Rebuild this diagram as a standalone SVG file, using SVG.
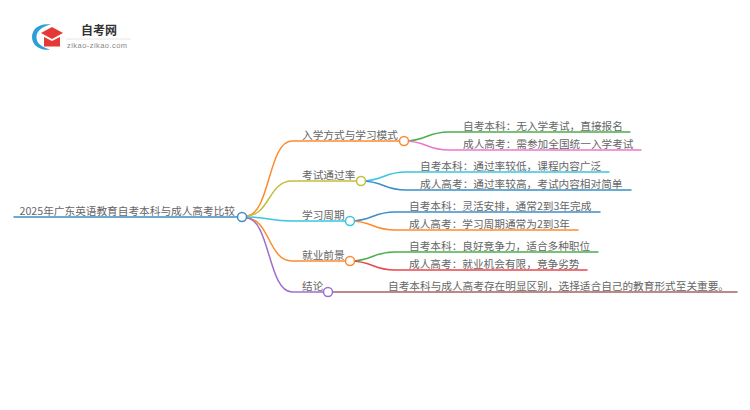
<svg xmlns="http://www.w3.org/2000/svg" width="750" height="410" viewBox="0 0 750 410">
<style>
text{font-family:"Noto Sans CJK SC","Noto Sans",sans-serif;font-size:10.67px;fill:#666;font-weight:400}
.c path{fill:none;stroke-width:1.5;stroke-linecap:round}
circle{fill:#fff;stroke-width:1.5}
</style>
<rect width="750" height="410" fill="#fff"/>
<g id="logo">
<path d="M51 24.5C38 22.5 32 30 32 37C32 44 38 51 50 49.5C41 47 36.500 43 36.500 37C36.500 31 42 26.500 51 24.500Z" fill="#2d9fd8"/>
<path d="M41 33L52 27L63 33L52 39Z" fill="#e53935"/>
<path d="M44 37L52 41L60 37V46.500H44Z" fill="#e53935"/>
<text x="81" y="35" style="font-size:12px;font-weight:700;fill:#333">自考网</text>
<path d="M66 39H131" stroke="#e6e6e6" fill="none"/>
<text x="67" y="48" style="font-size:7.5px;fill:#888;font-family:'Liberation Sans',sans-serif;letter-spacing:.45px">zikao-zikao.com</text>
</g>
<g class="c" id="connectors">
<path d="M14 217H242" stroke="#3d8ec9"/>
<path d="M246 216C270 216 268 141 292 141H404" stroke="#fd8a2f"/>
<path d="M246 216C270 216 268 181 292 181H361" stroke="#c3bf38"/>
<path d="M246 217C270 217 268 221 292 221H350" stroke="#37c7de"/>
<path d="M246 218C270 218 268 261 292 261H350" stroke="#fd8a2f"/>
<path d="M246 218C270 218 268 292 292 292H328" stroke="#a06fce"/>
<path d="M404 141C427 141 426 132 449 132H630" stroke="#4caf4c"/>
<path d="M404 141C427 141 426 150 449 150H641" stroke="#ec77cb"/>
<path d="M361 181C384 181 383 172 406 172H609" stroke="#37c7de"/>
<path d="M361 181C384 181 383 190 406 190H631" stroke="#3d8ec9"/>
<path d="M350 221C373 221 372 212 395 212H600" stroke="#3d8ec9"/>
<path d="M350 221C373 221 372 230 395 230H578" stroke="#fd8a2f"/>
<path d="M350 261C373 261 372 252 395 252H598" stroke="#4caf4c"/>
<path d="M350 261C373 261 372 270 395 270H587" stroke="#e8474c"/>
<path d="M328 292H737" stroke="#a5635f"/>
</g>
<g id="root"><text x="19.500" y="215">2025年广东英语教育自考本科与成人高考比较</text><circle cx="242" cy="217" r="4.5" stroke="#3d8ec9"/></g>
<g id="n1"><text x="302" y="139">入学方式与学习模式</text><circle cx="404" cy="141" r="4.5" stroke="#fd8a2f"/></g>
<g id="n2"><text x="302" y="179">考试通过率</text><circle cx="361" cy="181" r="4.5" stroke="#c3bf38"/></g>
<g id="n3"><text x="302" y="219">学习周期</text><circle cx="350" cy="221" r="4.5" stroke="#37c7de"/></g>
<g id="n4"><text x="302" y="259">就业前景</text><circle cx="350" cy="261" r="4.5" stroke="#fd8a2f"/></g>
<g id="n5"><text x="302" y="290">结论</text><circle cx="328" cy="292" r="4.5" stroke="#a06fce"/></g>
<g id="l1"><text x="463" y="130">自考本科：无入学考试，直接报名</text></g>
<g id="l2"><text x="463" y="148">成人高考：需参加全国统一入学考试</text></g>
<g id="l3"><text x="420" y="170">自考本科：通过率较低，课程内容广泛</text></g>
<g id="l4"><text x="420" y="188">成人高考：通过率较高，考试内容相对简单</text></g>
<g id="l5"><text x="409" y="210">自考本科：灵活安排，通常2到3年完成</text></g>
<g id="l6"><text x="409" y="228">成人高考：学习周期通常为2到3年</text></g>
<g id="l7"><text x="409" y="250">自考本科：良好竞争力，适合多种职位</text></g>
<g id="l8"><text x="409" y="268">成人高考：就业机会有限，竞争劣势</text></g>
<g id="l9"><text x="388" y="290">自考本科与成人高考存在明显区别，选择适合自己的教育形式至关重要。</text></g>
</svg>
